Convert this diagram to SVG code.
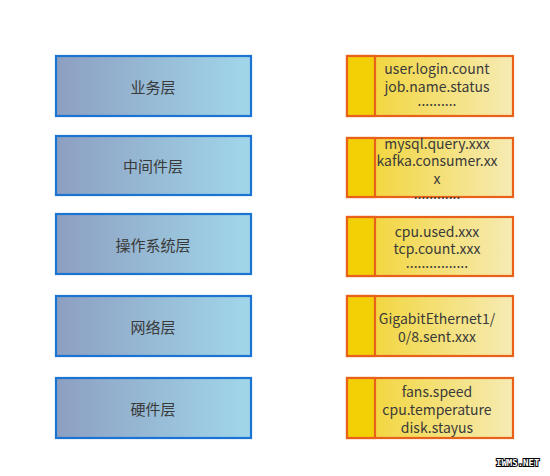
<svg xmlns="http://www.w3.org/2000/svg" width="550" height="476" viewBox="0 0 550 476">
<defs>
<linearGradient id="gb" x1="0" y1="0" x2="1" y2="0">
<stop offset="0" stop-color="#8d9fc1"/>
<stop offset="1" stop-color="#a1d7ea"/>
</linearGradient>
<linearGradient id="gy" x1="0" y1="0" x2="1" y2="0">
<stop offset="0" stop-color="#f2d22a"/>
<stop offset="1" stop-color="#f6ebb4"/>
</linearGradient>
</defs>
<style>
.lb{fill:url(#gb);stroke:#1b74d2;stroke-width:2.2}
.rb{fill:url(#gy);stroke:#e8621c;stroke-width:2.2}
.st{fill:#f3cf06;stroke:#e8621c;stroke-width:2.2}
.lt{font-family:"Noto Sans CJK SC","Noto Sans",sans-serif;font-size:15px;fill:#3a3a3a;text-anchor:middle;dominant-baseline:central}
.rt{font-family:"Noto Sans CJK SC","Noto Sans",sans-serif;font-size:14px;fill:#3a3a3a;text-anchor:middle}
.wm{font-family:"DejaVu Sans Mono",monospace;font-size:9px;font-weight:bold;fill:#fff;stroke:#000;stroke-width:2;paint-order:stroke}
</style>
<rect width="550" height="476" fill="#fff"/>
<g id="connectors"/>
<g id="n1"><rect class="lb" x="56" y="56" width="195" height="60"/><text class="lt" x="153" y="86">业务层</text></g>
<g id="n2"><rect class="lb" x="56" y="136" width="195" height="59"/><text class="lt" x="153" y="165">中间件层</text></g>
<g id="n3"><rect class="lb" x="56" y="214" width="195" height="60"/><text class="lt" x="153" y="244">操作系统层</text></g>
<g id="n4"><rect class="lb" x="56" y="296" width="195" height="60"/><text class="lt" x="153" y="326">网络层</text></g>
<g id="n5"><rect class="lb" x="56" y="378" width="195" height="60"/><text class="lt" x="153" y="408">硬件层</text></g>

<g id="m1"><rect class="rb" x="347" y="56" width="166" height="60"/><rect class="st" x="347" y="56" width="28" height="60"/>
<text class="rt" x="437" y="74">user.login.count</text><text class="rt" x="437" y="92">job.name.status</text><text class="rt" x="437" y="106" font-size="10">..........</text></g>
<g id="m2"><rect class="rb" x="347" y="138" width="166" height="59"/><rect class="st" x="347" y="138" width="28" height="59"/>
<text class="rt" x="437" y="149">mysql.query.xxx</text><text class="rt" x="437" y="166">kafka.consumer.xx</text><text class="rt" x="437" y="184">x</text><text class="rt" x="437" y="199" font-size="10">............</text></g>
<g id="m3"><rect class="rb" x="347" y="217" width="166" height="59"/><rect class="st" x="347" y="217" width="28" height="59"/>
<text class="rt" x="437" y="237">cpu.used.xxx</text><text class="rt" x="437" y="254">tcp.count.xxx</text><text class="rt" x="437" y="268" font-size="10">................</text></g>
<g id="m4"><rect class="rb" x="347" y="296" width="166" height="60"/><rect class="st" x="347" y="296" width="28" height="60"/>
<text class="rt" x="437" y="324">GigabitEthernet1/</text><text class="rt" x="437" y="342">0/8.sent.xxx</text></g>
<g id="m5"><rect class="rb" x="347" y="378" width="166" height="60"/><rect class="st" x="347" y="378" width="28" height="60"/>
<text class="rt" x="437" y="397">fans.speed</text><text class="rt" x="437" y="415">cpu.temperature</text><text class="rt" x="437" y="433">disk.stayus</text></g>
<text class="wm" x="496" y="466">IWMS.NET</text>
</svg>
